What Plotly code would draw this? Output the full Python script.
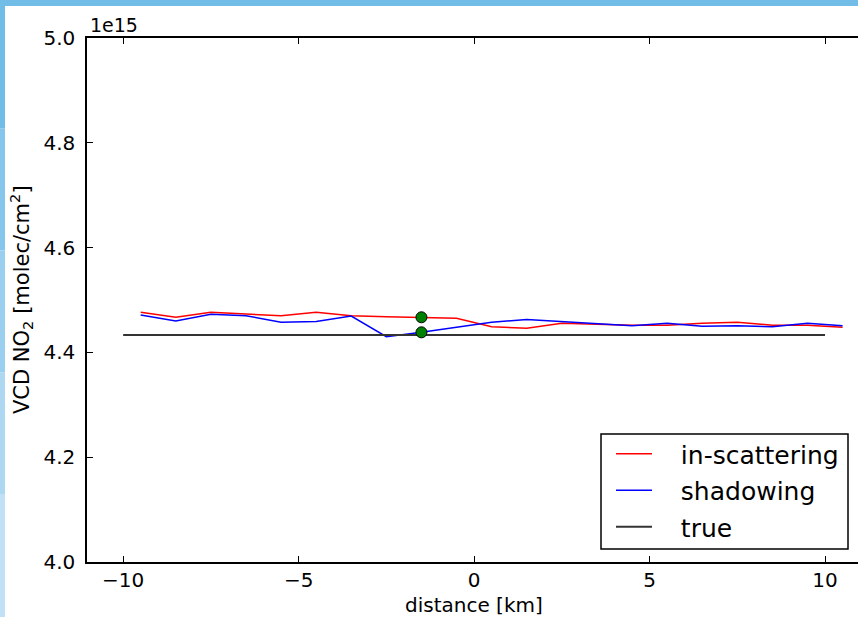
import plotly.graph_objects as go

# distance [km]
distance = [-9.5, -8.5, -7.5, -6.5, -5.5, -4.5, -3.5, -2.5, -1.5, -0.5, 0.5,
            1.5, 2.5, 3.5, 4.5, 5.5, 6.5, 7.5, 8.5, 9.5, 10.5]
# VCD NO2 in units of 1e15 molec/cm^2
in_scattering = [4.4765, 4.467, 4.4765, 4.473, 4.470, 4.4765, 4.470, 4.468, 4.467, 4.465, 4.449,
                 4.446, 4.4555, 4.454, 4.452, 4.452, 4.4555, 4.4574, 4.452, 4.452, 4.448]
shadowing = [4.4714, 4.460, 4.473, 4.470, 4.4574, 4.459, 4.4695, 4.430, 4.4383, 4.448, 4.4574,
             4.463, 4.459, 4.454, 4.451, 4.4555, 4.450, 4.451, 4.449, 4.4555, 4.451]
true_x = [-10, 10]
true_val = [4.4332, 4.4332]
marker_x = [-1.5, -1.5]
marker_val = [4.467, 4.4383]

x_ticks = [-10, -5, 0, 5, 10]
y_ticks = [4.0, 4.2, 4.4, 4.6, 4.8, 5.0]
series_names = ["in-scattering", "shadowing", "true"]

FONT = "DejaVu Sans"
GAP = "\u00a0\u00a0\u00a0"

fig = go.Figure()
fig.add_trace(go.Scatter(x=distance, y=in_scattering, mode="lines", name=GAP + series_names[0],
                         line=dict(color="#ff0000", width=1.5), legendgroup="a"))
fig.add_trace(go.Scatter(x=distance, y=shadowing, mode="lines", name=GAP + series_names[1],
                         line=dict(color="#0000ff", width=1.5), legendgroup="b"))
fig.add_trace(go.Scatter(x=true_x, y=true_val, mode="lines", name=GAP + series_names[2],
                         line=dict(color="#333333", width=2), legendgroup="c"))
fig.add_trace(go.Scatter(x=marker_x, y=marker_val, mode="markers", showlegend=False,
                         marker=dict(color="#008000", size=11, line=dict(color="#000000", width=1))))

W, H = 858, 617
L, R, T, B = 87, 0, 38, 55
pw, ph = W - L - R, H - T - B


def px(x):
    return (x - L) / pw


def py(y):
    return (H - B - y) / ph


shapes = []
# legend frame
shapes.append(dict(type="rect", xref="paper", yref="paper", x0=px(601), x1=px(848), y0=py(549),
                   y1=py(434), fillcolor="white", line=dict(color="black", width=1.5), layer="below"))
# decorative blue frame strips (screenshot border)
shapes.append(dict(type="rect", xref="paper", yref="paper", x0=px(0), x1=px(W), y0=py(6), y1=py(0),
                   fillcolor="#72bce8", line=dict(width=0), layer="above"))
cols = ["#72bce8", "#86c6ec", "#9acff0", "#aed8f2", "#c0e1f5"]
n = len(cols)
for i, c in enumerate(cols):
    shapes.append(dict(type="rect", xref="paper", yref="paper", x0=px(0), x1=px(5),
                       y0=py(6 + (H - 6) * (i + 1) / n), y1=py(6 + (H - 6) * i / n),
                       fillcolor=c, line=dict(width=0), layer="above"))

fig.update_layout(
    width=W, height=H,
    margin=dict(l=L, r=R, t=T, b=B, pad=0),
    paper_bgcolor="white", plot_bgcolor="white",
    font=dict(family=FONT, color="black", size=20),
    showlegend=True,
    legend=dict(x=px(611), y=py(550), xanchor="left", yanchor="bottom",
                borderwidth=0, bgcolor="rgba(0,0,0,0)",
                font=dict(size=25, family=FONT), traceorder="grouped", tracegroupgap=1,
                itemwidth=36),
    xaxis=dict(range=[-11.03, 10.94], tickvals=x_ticks, ticks="inside", ticklen=6, tickwidth=1,
               tickcolor="black", showline=True, linecolor="black", linewidth=1.5, mirror="ticks",
               showgrid=False, zeroline=False, tickfont=dict(size=20), ticklabelstandoff=-1),
    yaxis=dict(range=[4.0, 5.0], tickvals=y_ticks, tickformat=".1f", ticks="inside", ticklen=6,
               tickwidth=1, tickcolor="black", showline=True, linecolor="black", linewidth=1.5,
               showgrid=False, zeroline=False, tickfont=dict(size=20), ticklabelstandoff=6),
    shapes=shapes,
    annotations=[
        dict(text="1e15", xref="paper", yref="paper", x=px(88), y=py(38), xanchor="left",
             yanchor="bottom", showarrow=False, font=dict(size=19)),
        dict(text="distance [km]", xref="paper", yref="paper", x=px(474), y=py(605), xanchor="center",
             yanchor="middle", showarrow=False, font=dict(size=20)),
        dict(text="VCD NO<sub>2</sub> [molec/cm<sup>2</sup>]", xref="paper", yref="paper", x=px(21),
             y=py(300), xanchor="center", yanchor="middle", textangle=-90, showarrow=False,
             font=dict(size=21)),
    ],
)

fig.write_html("out.html")
